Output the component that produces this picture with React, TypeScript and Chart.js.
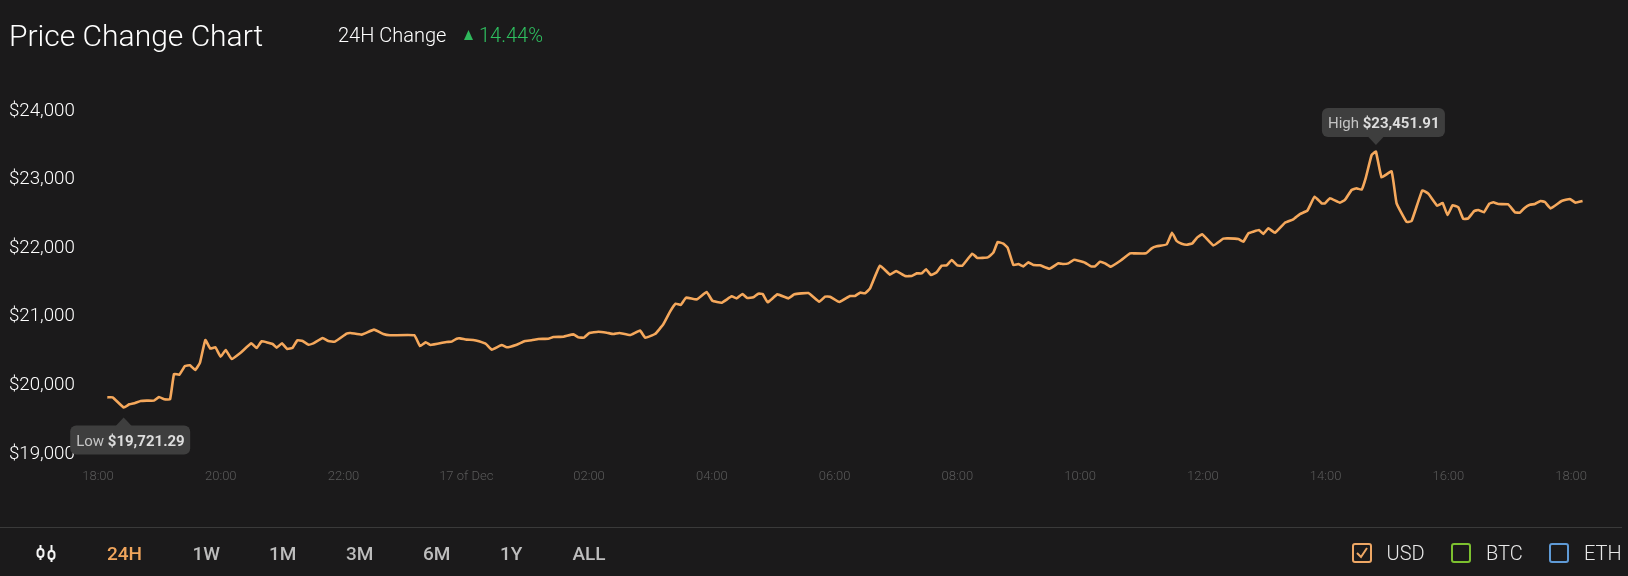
import React, { useEffect, useRef } from "react";
import { Chart, registerables } from "chart.js";

Chart.register(...registerables);

const minutes = [
  9.1, 14.3, 25.1, 30.6, 36.2, 41.7, 47.6, 54.7, 59.6, 64.8, 70.4, 74.3, 79.5, 85, 89.9, 95.1, 99.7, 104.9, 109.8, 114.7,
  119.9, 124.8, 130.6, 139.4, 149.9, 155.1, 160, 170.7, 174.6, 179.8, 185, 190.3, 194.8, 200, 205.9, 210.5, 219.6, 225.1, 231.6, 243,
  246.9, 257.7, 269.8, 278.9, 285.4, 309.2, 314.7, 320.3, 325.1, 340.8, 345.7, 350.6, 353.8, 360.3, 366.8, 372.4,
  379.3, 384.9, 394.6, 399.5, 409.3, 417.4, 423.9, 430.5, 440.2, 445.1, 454.9, 464.7, 469.6, 475.1, 480.3, 489.1, 497.3, 503.8, 509.6, 520.1,
  529.8, 535, 544.5, 552.6, 559.2, 564.7, 569.6, 574.8, 585.2, 595, 600.5, 609.7, 619.4, 624.3, 629.9, 634.7, 640.6, 645.5, 649.7, 654.6,
  664.1, 674.8, 680.7, 694.4, 705.1, 710.7, 715.5, 724.7, 735.1, 740, 744.9,
  749.8, 754.7, 764.4, 774.2, 780.1, 788.9, 795.4, 800.3, 805.2, 809.4, 814.3, 819.8, 824.7, 829.6, 834.5, 840, 844.9, 854.7, 859.6, 869.7,
  875.2, 879.5, 885, 889.2, 894.8, 899.7, 904.5, 909.4, 914.3, 920.8, 930, 938.8, 943.6, 948.5, 954.1, 964.8, 970.7, 974.6, 979.5, 984.4,
  989.9, 999, 1008.8, 1012.1, 1024.4, 1030, 1034.9, 1044.6, 1049.9, 1054.4, 1059.3, 1064.2, 1069.7, 1074.6, 1079.5, 1090.3, 1100, 1104.9, 1114.7, 1119.6,
  1124.5, 1129.3, 1134.9, 1139.1, 1144, 1150.5, 1160.3, 1168.4, 1174.9, 1182.1, 1189.3, 1196.1, 1199.4, 1204.2, 1214, 1218.9, 1225.4, 1230.3, 1235.2, 1239.4,
  1245, 1249.2, 1254.7, 1264.5, 1269.4, 1279.2, 1284.1, 1294.5, 1300.4, 1309.1, 1314.4, 1319.2, 1324.1, 1329.7, 1334.6, 1339.4, 1345.3, 1349.2, 1354.8, 1360,
  1363.9, 1368.8, 1378.5, 1385.1, 1389.9, 1394.8, 1399.7, 1404.6, 1410.1, 1414.4, 1419.9, 1430.7, 1438.8, 1444.3, 1451.2,
];

const prices = [
  19870, 19870, 19721.29, 19768, 19788, 19817, 19822, 19822, 19875, 19841, 19841, 20210, 20201, 20327, 20337, 20269, 20376, 20706, 20580, 20599,
  20463, 20560, 20429, 20521, 20657, 20589, 20686, 20648, 20594, 20657, 20575, 20594, 20701, 20691, 20638, 20657, 20735, 20691, 20682, 20798,
  20808, 20784, 20857, 20793, 20774, 20774, 20618, 20672, 20633, 20677, 20682, 20725, 20730, 20711, 20706, 20686,
  20647, 20565, 20633, 20599, 20638, 20691, 20701, 20720, 20725, 20749, 20754, 20788, 20744, 20740, 20808, 20827, 20812, 20793, 20808, 20778,
  20842, 20740, 20793, 20934, 21119, 21235, 21216, 21323, 21298, 21405, 21279, 21250, 21342, 21313, 21376, 21318, 21328, 21381, 21376, 21255,
  21371, 21313, 21371, 21391, 21264, 21337, 21337, 21260, 21347, 21347, 21396,
  21386, 21459, 21789, 21658, 21711, 21638, 21638, 21677, 21677, 21736, 21653, 21692, 21789, 21794, 21872, 21794, 21789, 21964, 21901, 21910,
  21979, 22134, 22110, 22051, 21799, 21813, 21779, 21838, 21799, 21794, 21745, 21823, 21813, 21823, 21876, 21833, 21779, 21779, 21847, 21823,
  21774, 21857, 21969, 21969, 21969, 22042, 22071, 22100, 22270, 22149, 22110, 22095, 22115, 22202, 22246, 22085, 22183, 22187, 22178, 22139,
  22260, 22285, 22309, 22251, 22334, 22270, 22416, 22465, 22542, 22591, 22795, 22698, 22698, 22771, 22708, 22747, 22892, 22917, 22897, 23077,
  23402, 23451.91, 23077, 23164, 22698, 22426, 22440, 22887, 22839, 22664, 22703, 22528, 22669, 22640, 22470, 22479, 22586, 22601, 22567, 22693,
  22713, 22688, 22683, 22567, 22562, 22635, 22678, 22688, 22732, 22717, 22625, 22732, 22761, 22708, 22732,
];

const yTicks = [19000, 20000, 21000, 22000, 23000, 24000];
const xTickMinutes = [0, 120, 240, 360, 480, 600, 720, 840, 960, 1080, 1200, 1320, 1440];
const xTickLabels = ["18:00", "20:00", "22:00", "17 of Dec", "02:00", "04:00", "06:00", "08:00", "10:00", "12:00", "14:00", "16:00", "18:00"];
const ranges = ["24H", "1W", "1M", "3M", "6M", "1Y", "ALL"];
const rangeLefts = [107, 192.5, 269, 346, 423, 500, 572.5];

const FONT = "Roboto, sans-serif";

function callout(ctx: CanvasRenderingContext2D, px: number, py: number, boxL: number, boxT: number, boxW: number, tipGap: number, label: string, val: string, above: boolean) {
  const boxH = 29;
  ctx.save();
  ctx.fillStyle = "#3e3e3e";
  ctx.beginPath();
  ctx.roundRect(boxL, boxT, boxW, boxH, 6);
  ctx.fill();
  ctx.beginPath();
  const tipY = above ? py - tipGap : py + tipGap;
  const baseY = above ? boxT + boxH - 0.5 : boxT + 0.5;
  ctx.moveTo(px - 8, baseY);
  ctx.lineTo(px, tipY);
  ctx.lineTo(px + 8, baseY);
  ctx.closePath();
  ctx.fill();
  ctx.textBaseline = "middle";
  ctx.textAlign = "left";
  ctx.font = `400 15px ${FONT}`;
  ctx.fillStyle = "#c4c4c4";
  const cy = boxT + boxH / 2 + 2;
  ctx.fillText(label + " ", boxL + 6, cy);
  const w = ctx.measureText(label + " ").width;
  ctx.font = `700 15px ${FONT}`;
  ctx.fillStyle = "#dddddd";
  ctx.fillText(val, boxL + 6 + w, cy);
  ctx.restore();
}

const calloutPlugin = {
  id: "callouts",
  afterDraw(chart: any) {
    const { ctx, scales } = chart;
    const lowI = prices.indexOf(Math.min(...prices));
    const highI = prices.indexOf(Math.max(...prices));
    const lx = scales.x.getPixelForValue(minutes[lowI]);
    const ly = scales.y.getPixelForValue(prices[lowI]);
    const hx = scales.x.getPixelForValue(minutes[highI]);
    const hy = scales.y.getPixelForValue(prices[highI]);
    callout(ctx, lx, ly, lx - 53.5, ly + 18, 120, 10, "Low", "$19,721.29", false);
    callout(ctx, hx, hy, hx - 54, hy - 43.5, 123, 6.5, "High", "$23,451.91", true);
  },
};

export default function App() {
  const ref = useRef<HTMLCanvasElement>(null);

  useEffect(() => {
    document.body.style.margin = "0";
    document.body.style.background = "#1b1a1b";
    const chart = new Chart(ref.current!, {
      type: "line",
      data: {
        datasets: [
          {
            data: minutes.map((m, i) => ({ x: m, y: prices[i] })),
            borderColor: "#f5a85c",
            borderWidth: 2.6,
            pointRadius: 0,
            tension: 0.1,
            fill: false,
          },
        ],
      },
      options: {
        animation: false,
        responsive: false,
        layout: { padding: 0, autoPadding: false },
        plugins: { legend: { display: false }, tooltip: { enabled: false } },
        scales: {
          x: {
            type: "linear",
            bounds: "data",
            min: -95.8,
            max: 1495.6,
            grid: { display: false, drawTicks: false },
            border: { display: false },
            afterFit: (s: any) => { s.height = 110; s.paddingLeft = 0; s.paddingRight = 0; },
            afterBuildTicks: (s: any) => { s.ticks = xTickMinutes.map((v) => ({ value: v })); },
            ticks: {
              autoSkip: false,
              maxRotation: 0,
              padding: 3,
              color: "#5a5a5a",
              font: { family: FONT, size: 13, weight: "300" },
              callback: (v: any) => xTickLabels[xTickMinutes.indexOf(v)],
            },
          },
          y: {
            type: "linear",
            bounds: "data",
            min: 18869,
            max: 25662,
            grid: { display: false, drawTicks: false },
            border: { display: false },
            afterFit: (s: any) => { s.width = 0; s.paddingTop = 0; s.paddingBottom = 0; },
            afterBuildTicks: (s: any) => { s.ticks = yTicks.map((v) => ({ value: v })); },
            ticks: {
              mirror: true,
              padding: 9,
              labelOffset: -3,
              color: "#ffffff",
              font: { family: FONT, size: 18.7, weight: "300" },
              callback: (v: any) => "$" + Number(v).toLocaleString("en-US"),
            },
          },
        },
      },
      plugins: [calloutPlugin],
    } as any);
    return () => chart.destroy();
  }, []);

  const abs = (left: number, centerY: number, extra: React.CSSProperties = {}): React.CSSProperties => ({
    position: "absolute",
    left,
    top: centerY,
    transform: "translateY(-50%)",
    whiteSpace: "nowrap",
    fontFamily: FONT,
    ...extra,
  });

  const box = (left: number, color: string, fill: string): React.CSSProperties => ({
    position: "absolute",
    left,
    top: 543,
    width: 20,
    height: 20,
    boxSizing: "border-box",
    border: `2px solid ${color}`,
    borderRadius: 3,
    background: fill,
  });

  return (
    <div style={{ position: "relative", width: 1628, height: 576, background: "#1b1a1b", overflow: "hidden" }}>
      <canvas ref={ref} width={1628} height={576} style={{ position: "absolute", left: 0, top: 0, display: "block" }} />
      <div style={abs(9, 35, { fontSize: 30, fontWeight: 300, color: "#ffffff" })}>Price Change Chart</div>
      <div style={abs(338, 35, { fontSize: 20, fontWeight: 300, color: "#ffffff" })}>24H Change</div>
      <svg style={{ position: "absolute", left: 463, top: 30 }} width={11} height={10}>
        <polygon points="5.5,0 10,10 1,10" fill="#2fb85c" />
      </svg>
      <div style={abs(479, 35, { fontSize: 20, fontWeight: 300, color: "#2fc060" })}>14.44%</div>

      <div style={{ position: "absolute", left: 0, top: 527, width: 1622, height: 1, background: "#3a3a3a" }} />
      <svg style={{ position: "absolute", left: 36, top: 544 }} width={20} height={19} fill="none" stroke="#f5f5f5" strokeWidth={2}>
        <rect x={1.5} y={5} width={6} height={8} rx={3} />
        <line x1={4.5} y1={1} x2={4.5} y2={5} />
        <line x1={4.5} y1={13} x2={4.5} y2={16} />
        <rect x={12.5} y={7} width={6} height={8} rx={3} />
        <line x1={15.5} y1={1} x2={15.5} y2={7} />
        <line x1={15.5} y1={15} x2={15.5} y2={18} />
      </svg>
      {ranges.map((r, i) => (
        <div key={r} style={abs(rangeLefts[i], 553, { fontSize: 19, fontWeight: 500, color: i === 0 ? "#f0a55c" : "#bdbdbd" })}>{r}</div>
      ))}

      <div style={box(1352, "#eea765", "transparent")}>
        <svg style={{ position: "absolute", left: 1, top: 1 }} width={14} height={14} fill="none" stroke="#eea765" strokeWidth={2}>
          <polyline points="2,7 6,11 12,2" />
        </svg>
      </div>
      <div style={abs(1386.5, 553, { fontSize: 20, fontWeight: 300, color: "#e8e8e8" })}>USD</div>
      <div style={box(1451, "#7cc02f", "transparent")} />
      <div style={abs(1486, 553, { fontSize: 20, fontWeight: 300, color: "#e8e8e8" })}>BTC</div>
      <div style={box(1549, "#5f9ad6", "transparent")} />
      <div style={abs(1584, 553, { fontSize: 20, fontWeight: 300, color: "#e8e8e8" })}>ETH</div>
    </div>
  );
}
